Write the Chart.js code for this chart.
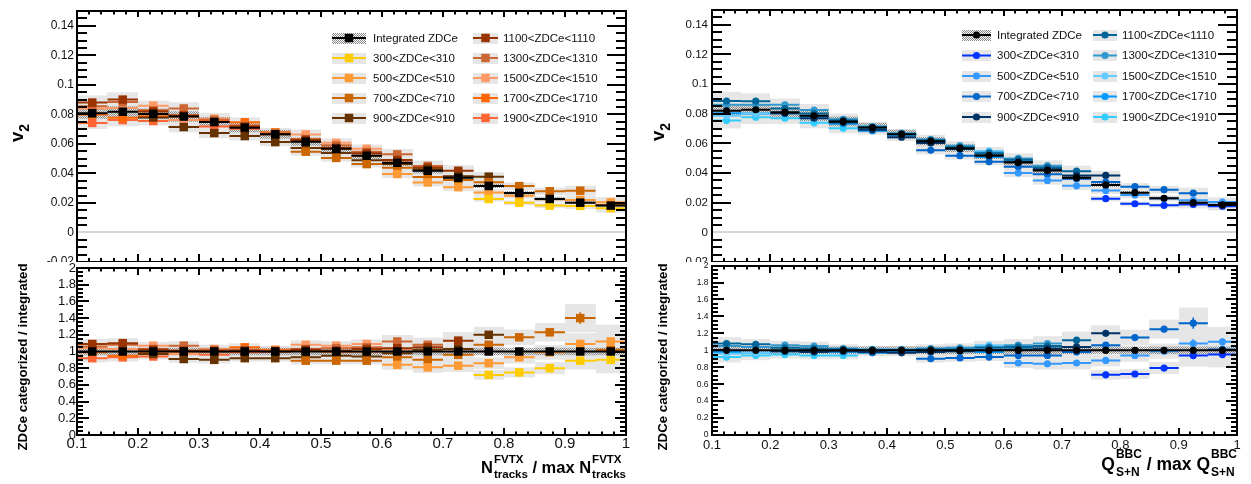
<!DOCTYPE html>
<html>
<head>
<meta charset="utf-8">
<title>v2 in ZDCe classes</title>
<script src="https://cdn.jsdelivr.net/npm/chart.js@4.4.1/dist/chart.umd.min.js"></script>
<style>
html, body { margin: 0; padding: 0; background: #fff; }
body { position: relative; width: 1251px; height: 484px; overflow: hidden; font-family: "Liberation Sans", Arial, Helvetica, sans-serif; color: #000; }
canvas { position: absolute; display: block; }
.ytitle { position: absolute; font-weight: bold; white-space: nowrap; line-height: 1; transform: translate(-50%, -50%) rotate(-90deg); z-index: 5; }
.ytitle .s { font-size: 14px; position: relative; top: 6px; }
.xtitle { position: absolute; font-weight: bold; white-space: nowrap; line-height: 1; z-index: 5; }
.ss { display: inline-grid; vertical-align: baseline; margin-left: 1px; }
.ss > span { grid-area: 1 / 1; line-height: 1; }
</style>
</head>
<body>
<canvas id="fvtxTop" width="640" height="272" style="left:0;top:0"></canvas>
<canvas id="fvtxRatio" width="640" height="222" style="left:0;top:262px"></canvas>
<canvas id="bbcTop" width="611" height="272" style="left:640px;top:0"></canvas>
<canvas id="bbcRatio" width="611" height="222" style="left:640px;top:262px"></canvas>

<div class="ytitle" style="left:16.5px;top:133px;font-size:18.5px">v<span class="s">2</span></div>
<div class="ytitle" style="left:23px;top:356.5px;font-size:13.25px">ZDCe categorized / integrated</div>
<div class="ytitle" style="left:658px;top:132px;font-size:18.5px">v<span class="s">2</span></div>
<div class="ytitle" style="left:663px;top:356.5px;font-size:13.25px">ZDCe categorized / integrated</div>

<div class="xtitle" style="right:625px;top:459px;font-size:16.5px">N<span class="ss" style="font-size:11.5px"><span style="transform:translateY(-9.7px)">FVTX</span><span style="transform:translateY(5.3px)">tracks</span></span> / max N<span class="ss" style="font-size:11.5px"><span style="transform:translateY(-9.7px)">FVTX</span><span style="transform:translateY(5.3px)">tracks</span></span></div>
<div class="xtitle" style="right:14px;top:456px;font-size:17.5px">Q<span class="ss" style="font-size:12px"><span style="transform:translateY(-12px)">BBC</span><span style="transform:translateY(6px)">S+N</span></span> / max Q<span class="ss" style="font-size:12px"><span style="transform:translateY(-12px)">BBC</span><span style="transform:translateY(6px)">S+N</span></span></div>

<script>
// ---------------------------------------------------------------------------
// Binning, labels and ticks
// ---------------------------------------------------------------------------
const _ = null;
const BIN_CENTERS = [0.125, 0.175, 0.225, 0.275, 0.325, 0.375, 0.425, 0.475, 0.525,
                     0.575, 0.625, 0.675, 0.725, 0.775, 0.825, 0.875, 0.925, 0.975];
const BIN_HALF = 0.025;

const SERIES_LABELS = ['Integrated ZDCe', '300<ZDCe<310', '500<ZDCe<510', '700<ZDCe<710', '900<ZDCe<910',
                       '1100<ZDCe<1110', '1300<ZDCe<1310', '1500<ZDCe<1510', '1700<ZDCe<1710', '1900<ZDCe<1910'];

const X_TICKS = [0.1, 0.2, 0.3, 0.4, 0.5, 0.6, 0.7, 0.8, 0.9, 1.0];
const X_TICK_LABELS = ['0.1', '0.2', '0.3', '0.4', '0.5', '0.6', '0.7', '0.8', '0.9', '1'];
const V2_TICKS = [-0.02, 0, 0.02, 0.04, 0.06, 0.08, 0.1, 0.12, 0.14];
const V2_TICK_LABELS = ['-0.02', '0', '0.02', '0.04', '0.06', '0.08', '0.1', '0.12', '0.14'];
const RATIO_TICKS = [0, 0.2, 0.4, 0.6, 0.8, 1, 1.2, 1.4, 1.6, 1.8, 2];
const RATIO_TICK_LABELS = ['0', '0.2', '0.4', '0.6', '0.8', '1', '1.2', '1.4', '1.6', '1.8', '2'];

// ---------------------------------------------------------------------------
// v2 vs N_tracks^FVTX / max (left panel)
// ---------------------------------------------------------------------------
const FVTX_V2_INTEGRATED = [0.0807, 0.0818, 0.0803, 0.0785, 0.0748, 0.0710, 0.0665, 0.0615, 0.0567, 0.0520, 0.0472, 0.0418, 0.0370, 0.0315, 0.0268, 0.0227, 0.0202, 0.0182];
const FVTX_V2_300  = [_, _, _, _, _, _, _, _, _, _, _, _, _, 0.0227, 0.0201, 0.0182, 0.0180, 0.0164];
const FVTX_V2_500  = [_, _, _, _, _, _, _, _, _, _, 0.0396, 0.0339, 0.0307, 0.0271, 0.0249, 0.0225, 0.0220, 0.0204];
const FVTX_V2_700  = [_, _, _, _, _, _, _, 0.0547, 0.0505, 0.0463, 0.0439, 0.0376, 0.0355, 0.0340, 0.0314, 0.0279, 0.0283, 0.0186];
const FVTX_V2_900  = [_, _, 0.0779, 0.0714, 0.0673, 0.0653, 0.0612, 0.0572, 0.0539, 0.0489, 0.0463, 0.0426, 0.0381, 0.0378, _, _, _, _];
const FVTX_V2_1100 = [0.0880, 0.0900, 0.0819, 0.0793, 0.0748, 0.0717, 0.0665, 0.0627, 0.0573, 0.0536, 0.0491, 0.0439, 0.0418, _, _, _, _, _];
const FVTX_V2_1300 = [0.0855, 0.0883, 0.0827, 0.0840, 0.0763, 0.0724, 0.0672, 0.0633, 0.0590, 0.0546, 0.0529, 0.0451, _, _, _, _, _, _];
const FVTX_V2_1500 = [0.0839, 0.0843, 0.0859, 0.0761, 0.0770, 0.0724, 0.0672, 0.0664, 0.0607, 0.0567, 0.0486, _, _, _, _, _, _, _];
const FVTX_V2_1700 = [0.0799, 0.0777, 0.0787, 0.0785, 0.0755, 0.0746, 0.0678, 0.0621, 0.0567, 0.0520, _, _, _, _, _, _, _, _];
const FVTX_V2_1900 = [0.0742, 0.0761, 0.0755, 0.0793, 0.0718, 0.0703, 0.0665, 0.0627, 0.0567, _, _, _, _, _, _, _, _, _];

const FVTX_RATIO_INTEGRATED = [1, 1, 1, 1, 1, 1, 1, 1, 1, 1, 1, 1, 1, 1, 1, 1, 1, 1];
const FVTX_RATIO_300  = [_, _, _, _, _, _, _, _, _, _, _, _, _, 0.72, 0.75, 0.80, 0.89, 0.90];
const FVTX_RATIO_500  = [_, _, _, _, _, _, _, _, _, _, 0.84, 0.81, 0.83, 0.86, 0.93, 0.99, 1.09, 1.12];
const FVTX_RATIO_700  = [_, _, _, _, _, _, _, 0.89, 0.89, 0.89, 0.93, 0.90, 0.96, 1.08, 1.17, 1.23, 1.40, 1.02];
const FVTX_RATIO_900  = [_, _, 0.97, 0.91, 0.90, 0.92, 0.92, 0.93, 0.95, 0.94, 0.98, 1.02, 1.03, 1.20, _, _, _, _];
const FVTX_RATIO_1100 = [1.09, 1.10, 1.02, 1.01, 1.00, 1.01, 1.00, 1.02, 1.01, 1.03, 1.04, 1.05, 1.13, _, _, _, _, _];
const FVTX_RATIO_1300 = [1.06, 1.08, 1.03, 1.07, 1.02, 1.02, 1.01, 1.03, 1.04, 1.05, 1.12, 1.08, _, _, _, _, _, _];
const FVTX_RATIO_1500 = [1.04, 1.03, 1.07, 0.97, 1.03, 1.02, 1.01, 1.08, 1.07, 1.09, 1.03, _, _, _, _, _, _, _];
const FVTX_RATIO_1700 = [0.99, 0.95, 0.98, 1.00, 1.01, 1.05, 1.02, 1.01, 1.00, 1.00, _, _, _, _, _, _, _, _];
const FVTX_RATIO_1900 = [0.92, 0.93, 0.94, 1.01, 0.96, 0.99, 1.00, 1.02, 1.00, _, _, _, _, _, _, _, _, _];

// relative systematic (box) and statistical (bar) uncertainties per bin
const FVTX_SYS_REL  = [0.055, 0.055, 0.04, 0.05, 0.05, 0.045, 0.045, 0.05, 0.05, 0.05, 0.07, 0.08, 0.09, 0.08, 0.08, 0.09, 0.12, 0.18];
const FVTX_STAT_REL = [0.008, 0.008, 0.008, 0.008, 0.008, 0.01, 0.01, 0.01, 0.012, 0.012, 0.015, 0.015, 0.02, 0.02, 0.025, 0.03, 0.05, 0.04];

// ---------------------------------------------------------------------------
// v2 vs Q_S+N^BBC / max (right panel)
// ---------------------------------------------------------------------------
const BBC_V2_INTEGRATED = [0.0820, 0.0827, 0.0811, 0.0786, 0.0748, 0.0707, 0.0662, 0.0615, 0.0568, 0.0518, 0.0471, 0.0417, 0.0369, 0.0320, 0.0268, 0.0230, 0.0200, 0.0185];
const BBC_V2_300  = [_, _, _, _, _, _, _, _, _, _, _, _, _, 0.0227, 0.0193, 0.0182, 0.0188, 0.0176];
const BBC_V2_500  = [_, _, _, _, _, _, _, _, _, _, 0.0400, 0.0350, 0.0314, 0.0282, 0.0252, 0.0228, 0.0216, 0.0204];
const BBC_V2_700  = [_, _, _, _, _, _, _, 0.0554, 0.0517, 0.0477, 0.0443, 0.0392, 0.0362, 0.0339, 0.0308, 0.0288, 0.0264, 0.0187];
const BBC_V2_900  = [_, _, 0.0803, 0.0770, 0.0741, 0.0693, 0.0642, 0.0603, 0.0562, 0.0518, 0.0476, 0.0425, 0.0384, 0.0384, _, _, _, _];
const BBC_V2_1100 = [0.0886, 0.0885, 0.0835, 0.0802, 0.0755, 0.0707, 0.0662, 0.0621, 0.0574, 0.0534, 0.0490, 0.0438, 0.0413, _, _, _, _, _];
const BBC_V2_1300 = [0.0861, 0.0860, 0.0860, 0.0825, 0.0763, 0.0714, 0.0669, 0.0627, 0.0585, 0.0539, 0.0499, 0.0450, _, _, _, _, _, _];
const BBC_V2_1500 = [0.0787, 0.0802, 0.0811, 0.0770, 0.0741, 0.0714, 0.0662, 0.0621, 0.0579, 0.0549, 0.0480, _, _, _, _, _, _, _];
const BBC_V2_1700 = [0.0804, 0.0802, 0.0803, 0.0778, 0.0733, 0.0686, 0.0655, 0.0615, 0.0574, 0.0508, _, _, _, _, _, _, _, _];
const BBC_V2_1900 = [0.0754, 0.0777, 0.0770, 0.0739, 0.0703, 0.0700, 0.0662, 0.0615, 0.0562, _, _, _, _, _, _, _, _, _];

const BBC_RATIO_INTEGRATED = [1, 1, 1, 1, 1, 1, 1, 1, 1, 1, 1, 1, 1, 1, 1, 1, 1, 1];
const BBC_RATIO_300  = [_, _, _, _, _, _, _, _, _, _, _, _, _, 0.71, 0.72, 0.79, 0.94, 0.95];
const BBC_RATIO_500  = [_, _, _, _, _, _, _, _, _, _, 0.85, 0.84, 0.85, 0.88, 0.94, 0.99, 1.08, 1.10];
const BBC_RATIO_700  = [_, _, _, _, _, _, _, 0.90, 0.91, 0.92, 0.94, 0.94, 0.98, 1.06, 1.15, 1.25, 1.32, 1.01];
const BBC_RATIO_900  = [_, _, 0.99, 0.98, 0.99, 0.98, 0.97, 0.98, 0.99, 1.00, 1.01, 1.02, 1.04, 1.20, _, _, _, _];
const BBC_RATIO_1100 = [1.08, 1.07, 1.03, 1.02, 1.01, 1.00, 1.00, 1.01, 1.01, 1.03, 1.04, 1.05, 1.12, _, _, _, _, _];
const BBC_RATIO_1300 = [1.05, 1.04, 1.06, 1.05, 1.02, 1.01, 1.01, 1.02, 1.03, 1.04, 1.06, 1.08, _, _, _, _, _, _];
const BBC_RATIO_1500 = [0.96, 0.97, 1.00, 0.98, 0.99, 1.01, 1.00, 1.01, 1.02, 1.06, 1.02, _, _, _, _, _, _, _];
const BBC_RATIO_1700 = [0.98, 0.97, 0.99, 0.99, 0.98, 0.97, 0.99, 1.00, 1.01, 0.98, _, _, _, _, _, _, _, _];
const BBC_RATIO_1900 = [0.92, 0.94, 0.95, 0.94, 0.94, 0.99, 1.00, 1.00, 0.99, _, _, _, _, _, _, _, _, _];

const BBC_SYS_REL  = [0.07, 0.06, 0.05, 0.05, 0.05, 0.04, 0.04, 0.05, 0.05, 0.05, 0.07, 0.08, 0.09, 0.08, 0.08, 0.09, 0.14, 0.16];
const BBC_STAT_REL = [0.008, 0.008, 0.008, 0.008, 0.008, 0.01, 0.01, 0.01, 0.012, 0.012, 0.015, 0.015, 0.02, 0.02, 0.025, 0.03, 0.05, 0.04];

const INTEGRATED_SYS_REL = 0.045;

// ---------------------------------------------------------------------------
// Styles
// ---------------------------------------------------------------------------
const FONT = '"Liberation Sans", Arial, Helvetica, sans-serif';
const FVTX_COLORS = ['#000000', '#FFCC00', '#FF9933', '#CC6600', '#663300', '#993300', '#CC6633', '#FF9966', '#FF6600', '#FF6633'];
const BBC_COLORS  = ['#000000', '#0033FF', '#3399FF', '#0066CC', '#003366', '#006699', '#3399CC', '#66CCFF', '#0099FF', '#33CCFF'];
const BOX_GRAY = '#e6e6e6';

Chart.defaults.font.family = FONT;

// 2x2 checkerboard used for the integrated systematic band
const checkerTile = (() => {
  const c = document.createElement('canvas');
  c.width = 2; c.height = 2;
  const g = c.getContext('2d');
  g.fillStyle = '#888888';
  g.fillRect(0, 0, 1, 1);
  g.fillRect(1, 1, 1, 1);
  return c;
})();

function buildDatasets(series, colors, sysRel, statRel, marker, isRatio) {
  return series.map((vals, k) => {
    const pts = [];
    vals.forEach((v, i) => {
      if (v === null) return;
      const rel = k === 0 ? INTEGRATED_SYS_REL : sysRel[i];
      const st = (k === 0 && isRatio) ? 0 : statRel[i];
      pts.push({ x: BIN_CENTERS[i], y: v, sys: v * rel, stat: v * st });
    });
    return {
      label: SERIES_LABELS[k],
      data: pts,
      integrated: k === 0,
      borderColor: colors[k],
      backgroundColor: colors[k],
      pointStyle: marker.style,
      pointRadius: marker.radius,
      pointHoverRadius: marker.radius,
      pointBorderWidth: 0
    };
  });
}

// white pad background
const padBackground = {
  id: 'padBackground',
  beforeDraw(chart) {
    const { ctx, width, height } = chart;
    ctx.save();
    ctx.fillStyle = '#ffffff';
    ctx.fillRect(0, 0, width, height);
    ctx.restore();
  }
};

// systematic boxes, bin-width bars and statistical bars
const binMarks = {
  id: 'binMarks',
  beforeDatasetsDraw(chart) {
    const { ctx, chartArea: a, scales: { x, y } } = chart;
    ctx.save();
    ctx.beginPath();
    ctx.rect(a.left, a.top, a.right - a.left, a.bottom - a.top);
    ctx.clip();
    const box = (p) => {
      const x0 = Math.round(x.getPixelForValue(p.x - BIN_HALF));
      const x1 = Math.round(x.getPixelForValue(p.x + BIN_HALF));
      const y0 = y.getPixelForValue(p.y + p.sys);
      const y1 = y.getPixelForValue(p.y - p.sys);
      ctx.fillRect(x0, y0, x1 - x0, y1 - y0);
    };
    ctx.fillStyle = BOX_GRAY;
    chart.data.datasets.forEach(ds => { if (!ds.integrated) ds.data.forEach(box); });
    ctx.fillStyle = ctx.createPattern(checkerTile, 'repeat');
    chart.data.datasets.forEach(ds => { if (ds.integrated) ds.data.forEach(box); });
    ctx.restore();
  },
  beforeDatasetDraw(chart, args) {
    const { ctx, chartArea: a, scales: { x, y } } = chart;
    const ds = chart.data.datasets[args.index];
    ctx.save();
    ctx.beginPath();
    ctx.rect(a.left, a.top, a.right - a.left, a.bottom - a.top);
    ctx.clip();
    ctx.strokeStyle = ds.borderColor;
    ctx.lineWidth = 2;
    ctx.beginPath();
    ds.data.forEach(p => {
      const py = y.getPixelForValue(p.y);
      ctx.moveTo(x.getPixelForValue(p.x - BIN_HALF), py);
      ctx.lineTo(x.getPixelForValue(p.x + BIN_HALF), py);
    });
    ctx.stroke();
    ctx.lineWidth = 1.5;
    ctx.beginPath();
    ds.data.forEach(p => {
      if (!p.stat) return;
      const px = x.getPixelForValue(p.x);
      ctx.moveTo(px, y.getPixelForValue(p.y + p.stat));
      ctx.lineTo(px, y.getPixelForValue(p.y - p.stat));
    });
    ctx.stroke();
    ctx.restore();
  }
};

// frame with inward ticks on all four sides
function minorValues(min, max, step, majors) {
  const out = [];
  const n = Math.round((max - min) / step);
  for (let k = 0; k <= n; k++) {
    const v = min + k * step;
    if (!majors.some(m => Math.abs(m - v) < step * 1e-3)) out.push(v);
  }
  return out;
}

const rootAxes = {
  id: 'rootAxes',
  afterDatasetsDraw(chart, args, o) {
    const { ctx, chartArea: a, scales: { x, y } } = chart;
    const L = Math.round(a.left), R = Math.round(a.right), T = Math.round(a.top), B = Math.round(a.bottom);
    ctx.save();
    ctx.strokeStyle = '#000';
    ctx.lineWidth = 2;
    ctx.beginPath();
    const yTick = (v, lenL, lenR) => {
      const py = Math.round(y.getPixelForValue(v));
      if (py < T - 0.5 || py > B + 0.5) return;
      ctx.moveTo(L, py); ctx.lineTo(L + lenL, py);
      ctx.moveTo(R, py); ctx.lineTo(R - lenR, py);
    };
    const xTick = (v, lenB, lenT) => {
      const px = Math.round(x.getPixelForValue(v));
      ctx.moveTo(px, B); ctx.lineTo(px, B - lenB);
      ctx.moveTo(px, T); ctx.lineTo(px, T + lenT);
    };
    o.yMajor.forEach(v => yTick(v, o.yLen[0], o.yLen[1]));
    minorValues(y.min, y.max, o.yMinorStep, o.yMajor).forEach(v => yTick(v, o.yLen[2], o.yLen[3]));
    X_TICKS.forEach(v => xTick(v, o.xLen[0], o.xLen[1]));
    minorValues(0.1, 1, 0.02, X_TICKS).forEach(v => xTick(v, o.xLen[2], o.xLen[3]));
    ctx.stroke();
    ctx.strokeRect(L, T, R - L, B - T);
    if (o.zeroLine) {
      const pz = Math.round(y.getPixelForValue(0));
      ctx.strokeStyle = '#d6d6d6';
      ctx.beginPath();
      ctx.moveTo(L + 1, pz); ctx.lineTo(R - 1, pz);
      ctx.stroke();
    }
    ctx.restore();
  }
};

// two-column legend with boxed line+marker samples
const rootLegend = {
  id: 'rootLegend',
  afterDraw(chart, args, o) {
    if (!o || !o.show) return;
    const { ctx } = chart;
    ctx.save();
    ctx.font = o.fontSize + 'px ' + FONT;
    ctx.textBaseline = 'middle';
    ctx.textAlign = 'left';
    const pattern = ctx.createPattern(checkerTile, 'repeat');
    chart.data.datasets.forEach((ds, k) => {
      const c = o.cols[k < 5 ? 0 : 1];
      const yc = o.rows[k % 5];
      ctx.fillStyle = ds.integrated ? pattern : BOX_GRAY;
      ctx.fillRect(c.x0, Math.round(yc - 5.5), c.x1 - c.x0, 11);
      ctx.strokeStyle = ds.borderColor;
      ctx.lineWidth = 2;
      ctx.beginPath();
      ctx.moveTo(c.x0, yc); ctx.lineTo(c.x1, yc);
      ctx.stroke();
      ctx.fillStyle = ds.backgroundColor;
      Chart.helpers.drawPoint(ctx, { pointStyle: ds.pointStyle, radius: ds.pointRadius, rotation: 0, borderWidth: 0 }, (c.x0 + c.x1) / 2, yc);
      ctx.fillStyle = '#111';
      ctx.fillText(ds.label, c.tx, yc + 0.5);
    });
    ctx.restore();
  }
};

function makePad(id, cfg) {
  return new Chart(document.getElementById(id), {
    type: 'scatter',
    data: { datasets: cfg.datasets },
    options: {
      responsive: false,
      animation: false,
      devicePixelRatio: 1,
      events: [],
      layout: { padding: cfg.padding },
      plugins: {
        legend: { display: false },
        tooltip: { enabled: false },
        rootAxes: cfg.axes,
        rootLegend: cfg.legend || { show: false }
      },
      scales: {
        x: {
          type: 'linear', min: 0.1, max: 1,
          display: cfg.xFont != null,
          grid: { display: false, drawTicks: false },
          border: { display: false },
          ticks: {
            font: { family: FONT, size: cfg.xFont || 12 },
            color: '#111', padding: cfg.xPad || 0, maxRotation: 0, autoSkip: false,
            callback: (v, i) => X_TICK_LABELS[i]
          },
          afterBuildTicks: s => { s.ticks = X_TICKS.map(v => ({ value: v })); },
          afterFit: s => {
            if (cfg.xHeight != null) s.height = cfg.xHeight;
            s.paddingLeft = 0; s.paddingRight = 0;
          }
        },
        y: {
          type: 'linear', min: cfg.yMin, max: cfg.yMax,
          grid: { display: false, drawTicks: false },
          border: { display: false },
          ticks: {
            font: { family: FONT, size: cfg.yFont },
            color: '#111', padding: cfg.yPad, autoSkip: false,
            callback: (v, i) => cfg.yLabels[i]
          },
          afterBuildTicks: s => { s.ticks = cfg.yTicks.map(v => ({ value: v })); },
          afterFit: s => { s.width = cfg.yWidth; s.paddingTop = 0; s.paddingBottom = 0; }
        }
      }
    },
    plugins: [padBackground, binMarks, rootAxes, rootLegend]
  });
}

// ---------------------------------------------------------------------------
// Assemble the four pads
// ---------------------------------------------------------------------------
const FVTX_V2 = [FVTX_V2_INTEGRATED, FVTX_V2_300, FVTX_V2_500, FVTX_V2_700, FVTX_V2_900,
                 FVTX_V2_1100, FVTX_V2_1300, FVTX_V2_1500, FVTX_V2_1700, FVTX_V2_1900];
const FVTX_RATIO = [FVTX_RATIO_INTEGRATED, FVTX_RATIO_300, FVTX_RATIO_500, FVTX_RATIO_700, FVTX_RATIO_900,
                    FVTX_RATIO_1100, FVTX_RATIO_1300, FVTX_RATIO_1500, FVTX_RATIO_1700, FVTX_RATIO_1900];
const BBC_V2 = [BBC_V2_INTEGRATED, BBC_V2_300, BBC_V2_500, BBC_V2_700, BBC_V2_900,
                BBC_V2_1100, BBC_V2_1300, BBC_V2_1500, BBC_V2_1700, BBC_V2_1900];
const BBC_RATIO = [BBC_RATIO_INTEGRATED, BBC_RATIO_300, BBC_RATIO_500, BBC_RATIO_700, BBC_RATIO_900,
                   BBC_RATIO_1100, BBC_RATIO_1300, BBC_RATIO_1500, BBC_RATIO_1700, BBC_RATIO_1900];

const SQUARE = { style: 'rect', radius: 6 };
const CIRCLE = { style: 'circle', radius: 3.6 };

const TOP_AXES = { yMajor: V2_TICKS, yMinorStep: 0.005, yLen: [19, 19, 10, 10], xLen: [8, 6, 4, 3.5], zeroLine: true };
const RATIO_AXES = { yMajor: RATIO_TICKS, yMinorStep: 0.05, yLen: [12, 11, 6, 6], xLen: [7, 7, 3.5, 3.5], zeroLine: false };

makePad('fvtxTop', {
  datasets: buildDatasets(FVTX_V2, FVTX_COLORS, FVTX_SYS_REL, FVTX_STAT_REL, SQUARE, false),
  padding: { left: 0, right: 14, top: 11, bottom: 10 },
  yMin: -0.02, yMax: 0.15, yTicks: V2_TICKS, yLabels: V2_TICK_LABELS, yFont: 12, yPad: 3, yWidth: 77,
  axes: TOP_AXES,
  legend: { show: true, fontSize: 11.5, rows: [38, 58, 78, 98, 118],
            cols: [{ x0: 332, x1: 366, tx: 373 }, { x0: 473, x1: 498, tx: 503 }] }
});

makePad('fvtxRatio', {
  datasets: buildDatasets(FVTX_RATIO, FVTX_COLORS, FVTX_SYS_REL, FVTX_STAT_REL, SQUARE, true),
  padding: { left: 0, right: 14, top: 2, bottom: 0 },
  yMin: 0, yMax: 2, yTicks: RATIO_TICKS, yLabels: RATIO_TICK_LABELS, yFont: 13, yPad: 1, yWidth: 77,
  xFont: 15, xPad: 0, xHeight: 49,
  axes: RATIO_AXES
});

makePad('bbcTop', {
  datasets: buildDatasets(BBC_V2, BBC_COLORS, BBC_SYS_REL, BBC_STAT_REL, CIRCLE, false),
  padding: { left: 0, right: 14, top: 10, bottom: 10 },
  yMin: -0.02, yMax: 0.15, yTicks: V2_TICKS, yLabels: V2_TICK_LABELS, yFont: 11.5, yPad: 4, yWidth: 72,
  axes: TOP_AXES,
  legend: { show: true, fontSize: 11.5, rows: [35, 55.5, 76, 96.5, 117],
            cols: [{ x0: 322, x1: 351, tx: 357 }, { x0: 453, x1: 477, tx: 482 }] }
});

makePad('bbcRatio', {
  datasets: buildDatasets(BBC_RATIO, BBC_COLORS, BBC_SYS_REL, BBC_STAT_REL, CIRCLE, true),
  padding: { left: 0, right: 14, top: 2, bottom: 0 },
  yMin: 0, yMax: 2, yTicks: RATIO_TICKS, yLabels: RATIO_TICK_LABELS, yFont: 8.5, yPad: 3.5, yWidth: 72,
  xFont: 13, xPad: 3, xHeight: 49,
  axes: RATIO_AXES
});
</script>
</body>
</html>
